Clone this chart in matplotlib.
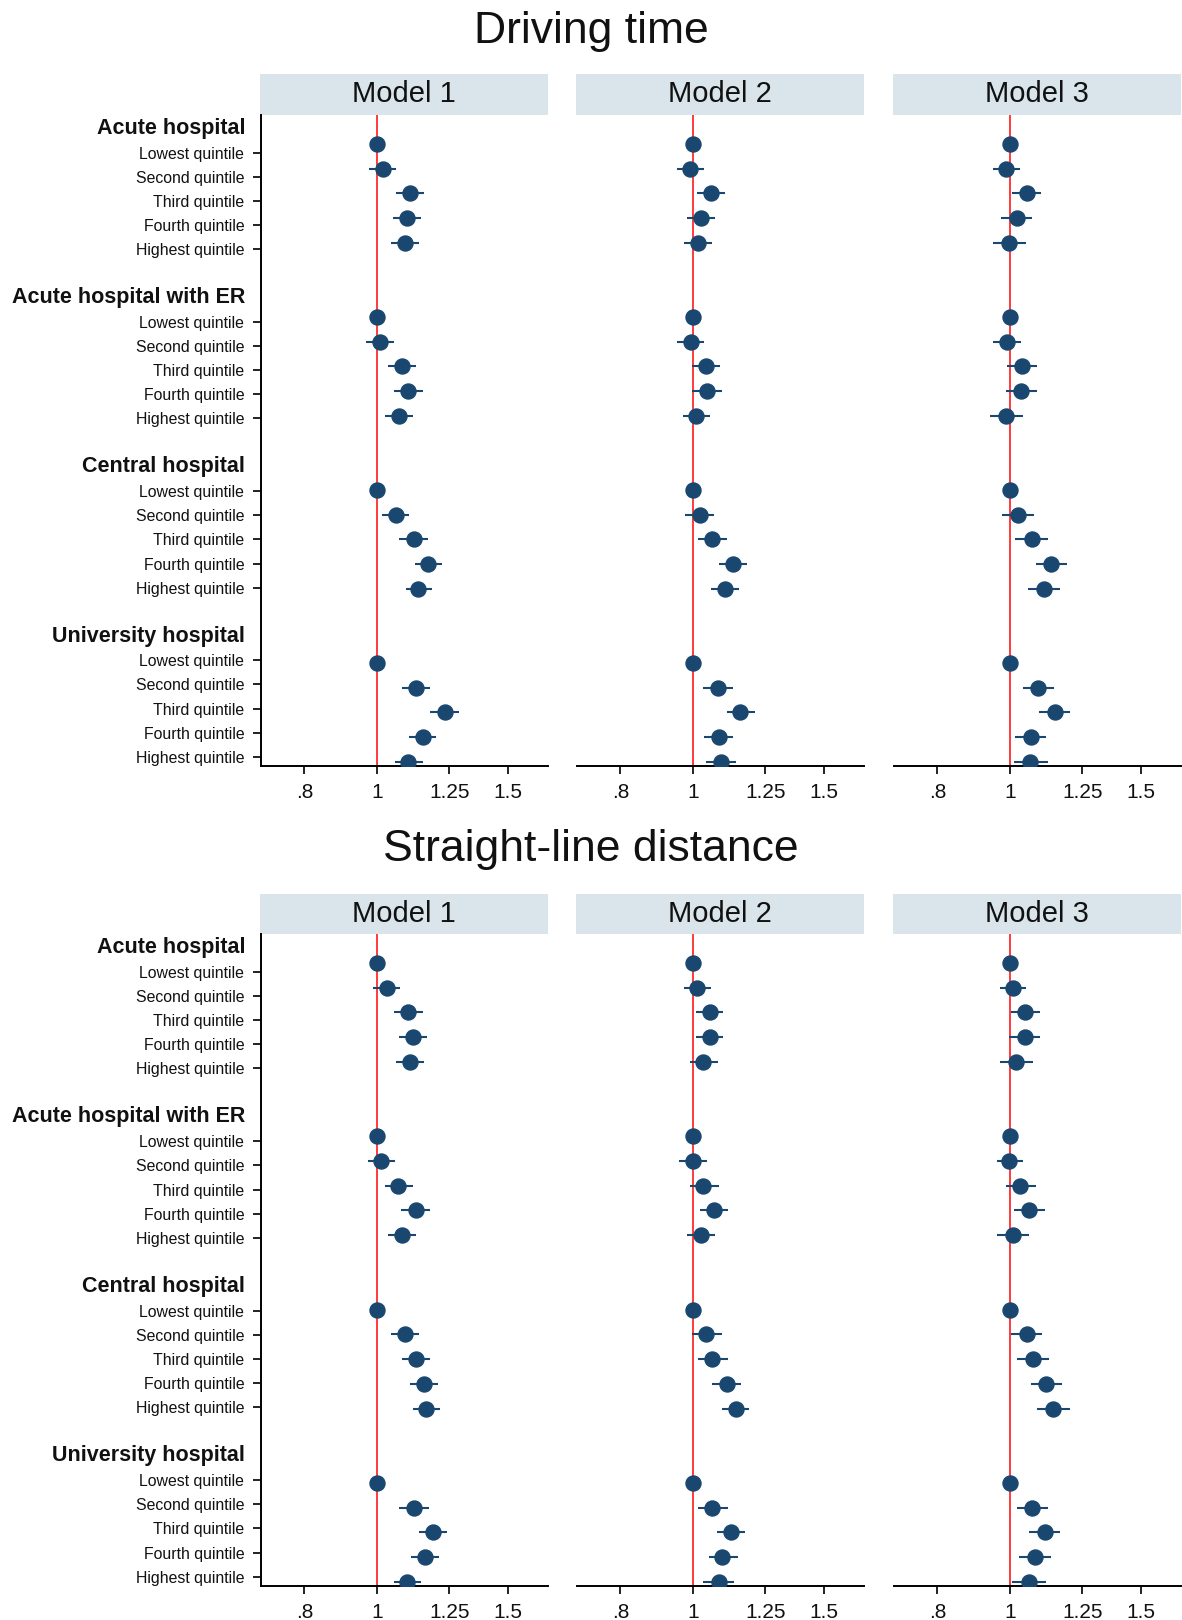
import numpy as np
import matplotlib
matplotlib.use("Agg")
from matplotlib import pyplot as plt
from matplotlib.transforms import blended_transform_factory

plt.rcParams['font.family'] = ['Liberation Sans', 'DejaVu Sans']

groups = ["Acute hospital", "Acute hospital with ER", "Central hospital", "University hospital"]
quintiles = ["Lowest quintile", "Second quintile", "Third quintile", "Fourth quintile", "Highest quintile"]
models = ["Model 1", "Model 2", "Model 3"]
sections = ["Driving time", "Straight-line distance"]

# odds ratios per model, 4 groups x 5 quintiles (lowest quintile = reference)
drive_est = [
    [1, 1.018, 1.108, 1.096, 1.092, 1, 1.010, 1.080, 1.102, 1.071,
     1, 1.060, 1.121, 1.172, 1.137, 1, 1.127, 1.233, 1.152, 1.102],
    [1, 0.993, 1.057, 1.027, 1.015, 1, 0.995, 1.042, 1.044, 1.009,
     1, 1.022, 1.060, 1.133, 1.104, 1, 1.082, 1.157, 1.083, 1.090],
    [1, 0.989, 1.055, 1.022, 0.998, 1, 0.991, 1.039, 1.035, 0.988,
     1, 1.027, 1.070, 1.137, 1.111, 1, 1.092, 1.148, 1.068, 1.065],
]
drive_lo = [
    [1, 0.977, 1.061, 1.051, 1.045, 1, 0.967, 1.034, 1.056, 1.026,
     1, 1.015, 1.072, 1.125, 1.093, 1, 1.081, 1.180, 1.103, 1.057],
    [1, 0.954, 1.012, 0.983, 0.973, 1, 0.954, 0.997, 0.997, 0.969,
     1, 0.977, 1.015, 1.084, 1.057, 1, 1.032, 1.110, 1.036, 1.041],
    [1, 0.949, 1.008, 0.973, 0.949, 1, 0.949, 0.993, 0.988, 0.941,
     1, 0.977, 1.017, 1.085, 1.058, 1, 1.042, 1.094, 1.017, 1.012],
]
drive_hi = [
    [1, 1.060, 1.158, 1.145, 1.139, 1, 1.055, 1.128, 1.152, 1.119,
     1, 1.106, 1.172, 1.221, 1.185, 1, 1.179, 1.287, 1.202, 1.152],
    [1, 1.036, 1.103, 1.072, 1.061, 1, 1.036, 1.089, 1.093, 1.056,
     1, 1.068, 1.113, 1.181, 1.154, 1, 1.131, 1.211, 1.131, 1.141],
    [1, 1.031, 1.102, 1.071, 1.050, 1, 1.034, 1.086, 1.086, 1.041,
     1, 1.076, 1.125, 1.192, 1.168, 1, 1.147, 1.203, 1.119, 1.125],
]
line_est = [
    [1, 1.031, 1.102, 1.119, 1.108, 1, 1.014, 1.068, 1.127, 1.081,
     1, 1.091, 1.127, 1.156, 1.163, 1, 1.121, 1.190, 1.161, 1.096],
    [1, 1.013, 1.054, 1.054, 1.033, 1, 1.001, 1.033, 1.068, 1.026,
     1, 1.043, 1.061, 1.110, 1.141, 1, 1.062, 1.124, 1.093, 1.083],
    [1, 1.010, 1.049, 1.047, 1.021, 1, 0.998, 1.032, 1.060, 1.010,
     1, 1.055, 1.073, 1.118, 1.143, 1, 1.071, 1.115, 1.082, 1.060],
]
line_lo = [
    [1, 0.990, 1.056, 1.071, 1.060, 1, 0.972, 1.026, 1.076, 1.034,
     1, 1.045, 1.080, 1.108, 1.118, 1, 1.071, 1.139, 1.113, 1.056],
    [1, 0.972, 1.009, 1.009, 0.991, 1, 0.959, 0.993, 1.023, 0.983,
     1, 0.997, 1.015, 1.061, 1.093, 1, 1.015, 1.077, 1.050, 1.031],
    [1, 0.969, 1.004, 0.997, 0.970, 1, 0.960, 0.987, 1.012, 0.960,
     1, 1.003, 1.023, 1.068, 1.089, 1, 1.023, 1.062, 1.030, 1.008],
]
line_hi = [
    [1, 1.074, 1.152, 1.168, 1.158, 1, 1.059, 1.118, 1.179, 1.129,
     1, 1.139, 1.179, 1.208, 1.216, 1, 1.173, 1.243, 1.213, 1.146],
    [1, 1.057, 1.099, 1.099, 1.082, 1, 1.046, 1.083, 1.115, 1.071,
     1, 1.093, 1.115, 1.159, 1.191, 1, 1.115, 1.175, 1.148, 1.135],
    [1, 1.051, 1.099, 1.096, 1.075, 1, 1.041, 1.083, 1.115, 1.061,
     1, 1.106, 1.129, 1.174, 1.203, 1, 1.125, 1.168, 1.135, 1.119],
]

xticks = [0.8, 1, 1.25, 1.5]
xticklabels = [".8", "1", "1.25", "1.5"]

navy = "#1a476f"
W, H = 1182, 1620

fig = plt.figure(figsize=(W / 100, H / 100), dpi=100)
fig.patch.set_facecolor("white")


def rect(x0, y0, x1, y1):
    return [x0 / W, 1 - y1 / H, (x1 - x0) / W, (y1 - y0) / H]


# slot layout: header, 5 quintiles, blank line between groups
row_slots = np.array([7 * g + 1 + q for g in range(len(groups)) for q in range(len(quintiles))])
header_slots = np.array([7 * g for g in range(len(groups))])


def label_pos(s):
    # labels sit on a slightly compressed scale relative to the markers
    return 0.373 + 0.978 * s


panel_x = [(261, 548), (577, 864), (894, 1181)]
section_top = [(31, 74, 115, 766), (850, 894, 934, 1586)]
section_data = [(drive_est, drive_lo, drive_hi), (line_est, line_lo, line_hi)]

for si, (title, (ty, sy, ay0, ay1)) in enumerate(zip(sections, section_top)):
    fig.text(0.5, 1 - ty / H, title, ha="center", va="center", fontsize=32, color="#111111")
    est_all, lo_all, hi_all = section_data[si]
    for mi, (x0, x1) in enumerate(panel_x):
        strip = fig.add_axes(rect(x0 - 1, sy, x1, ay0))
        strip.set_facecolor("#d9e5eb")
        strip.set_xticks([])
        strip.set_yticks([])
        for sp in strip.spines.values():
            sp.set_visible(False)
        strip.text(0.5, 0.5, models[mi], ha="center", va="center", fontsize=21,
                   color="#111111", transform=strip.transAxes)

        ax = fig.add_axes(rect(x0, ay0, x1, ay1))
        est = np.array(est_all[mi])
        lo = np.array(lo_all[mi])
        hi = np.array(hi_all[mi])

        ax.axvline(1, color="#ff1a1a", lw=1.2, zorder=1)
        ax.hlines(row_slots, lo, hi, color=navy, lw=1.5, zorder=2)
        ax.plot(est, row_slots, "o", color=navy, ms=10.8, zorder=3)

        ax.set_xscale("log")
        ax.set_xlim(0.70, 1.695)
        ax.set_ylim(26.17, -0.17)
        ax.set_xticks(xticks)
        ax.set_xticklabels(xticklabels)
        ax.minorticks_off()
        ax.tick_params(axis="x", length=6, width=1.3, pad=6, labelsize=15, colors="#111111")

        for side in ["top", "right"]:
            ax.spines[side].set_visible(False)
        ax.spines["bottom"].set_linewidth(1.4)

        if mi == 0:
            ax.spines["left"].set_linewidth(1.4)
            ax.set_yticks(label_pos(row_slots))
            ax.set_yticklabels(quintiles * len(groups))
            ax.tick_params(axis="y", length=6, width=1.3, pad=6, labelsize=11.4, colors="#111111")
            trans = blended_transform_factory(ax.transAxes, ax.transData)
            for g, hs in zip(groups, header_slots):
                ax.text(-0.055, label_pos(hs), g, transform=trans, ha="right", va="center",
                        fontsize=15.5, fontweight="bold", color="#111111")
        else:
            ax.spines["left"].set_visible(False)
            ax.set_yticks([])

fig.savefig("out.png", dpi=100)
